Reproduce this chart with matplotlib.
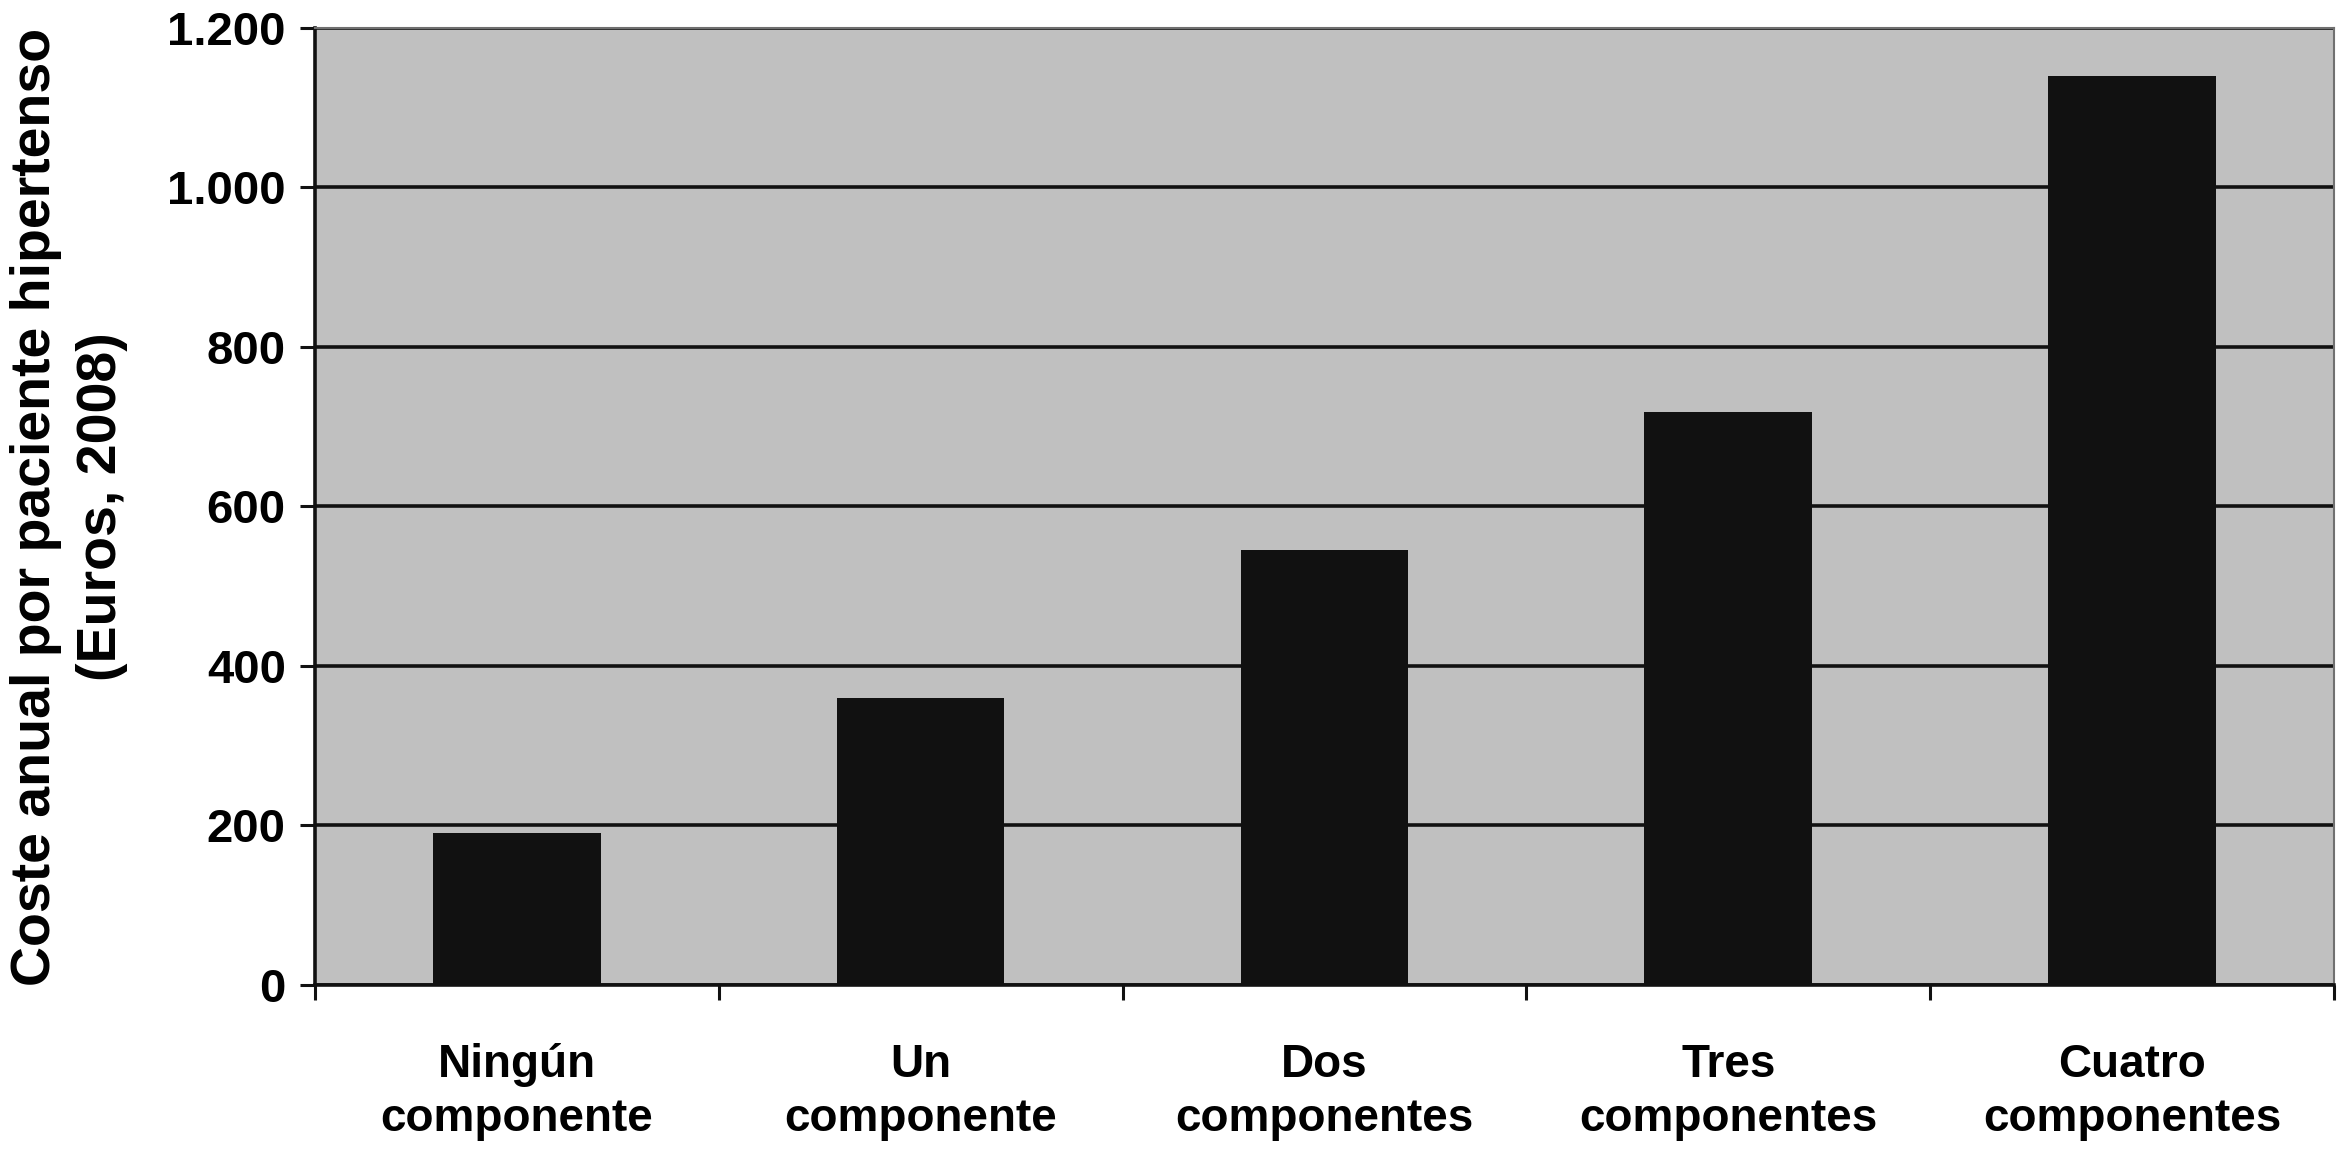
import matplotlib
matplotlib.use("Agg")
import matplotlib.pyplot as plt
import numpy as np

categories = ["Ningún\ncomponente", "Un\ncomponente", "Dos\ncomponentes",
              "Tres\ncomponentes", "Cuatro\ncomponentes"]
values = [190, 360, 545, 718, 1140]
yticks = [0, 200, 400, 600, 800, 1000, 1200]
ytick_labels = ["0", "200", "400", "600", "800", "1.000", "1.200"]
ylabel = "Coste anual por paciente hipertenso\n(Euros, 2008)"

plt.rcParams['font.family'] = ['Liberation Sans', 'DejaVu Sans']
plt.rcParams['font.weight'] = 'bold'

fig = plt.figure(figsize=(23.4, 11.6), dpi=100)
ax = fig.add_axes([0.1346, 0.1509, 0.8628, 0.8250])
ax.set_facecolor('#c0c0c0')

x = np.arange(len(categories))
ax.bar(x, values, width=0.415, color='#111111', zorder=3)

ax.set_xlim(-0.5, len(categories) - 0.5)
ax.set_ylim(0, 1200)
ax.set_yticks(yticks)
ax.set_yticklabels(ytick_labels, fontsize=34, fontweight='bold')
ax.yaxis.grid(True, color='#111111', linewidth=2.6, zorder=1)
ax.set_axisbelow(True)

ax.set_xticks(x)
ax.set_xticklabels(categories, fontsize=33, fontweight='bold', linespacing=1.3)
ax.tick_params(axis='x', which='major', length=0, pad=42)
ax.set_xticks(np.arange(-0.5, len(categories)), minor=True)
ax.tick_params(axis='x', which='minor', length=11, width=2.2, color='#111111')
ax.tick_params(axis='y', length=11, width=2.2, color='#111111', pad=10)

for s in ['left', 'bottom']:
    ax.spines[s].set_color('#111111')
    ax.spines[s].set_linewidth(2.6)
for s in ['top', 'right']:
    ax.spines[s].set_color('#707070')
    ax.spines[s].set_linewidth(1.5)

ax.set_ylabel(ylabel, fontsize=40, fontweight='bold', linespacing=1.35, labelpad=28)

fig.savefig('out.png', dpi=100, facecolor='white')
